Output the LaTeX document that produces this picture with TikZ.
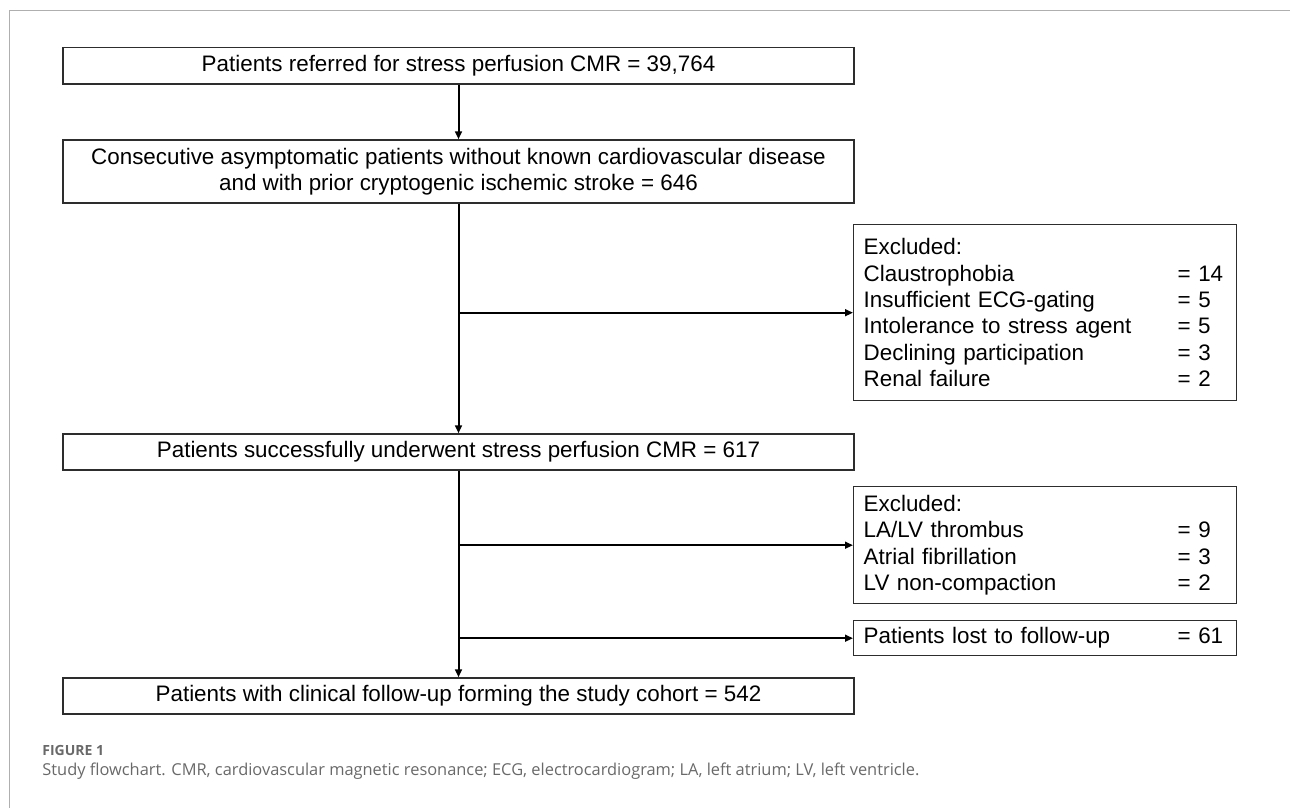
\documentclass[tikz,border=0pt]{standalone}
\usepackage{fontspec}
\setmainfont{Liberation Sans}
\newfontfamily\capfont{Open Sans}
\usepackage{xcolor}
\usetikzlibrary{arrows.meta}
\definecolor{FrameGrey}{RGB}{175,175,175}
\definecolor{CaptionGrey}{RGB}{105,105,105}
\definecolor{BoxLine}{RGB}{45,45,45}

\newcommand{\exrow}[2]{\makebox[157pt][l]{#1}= #2}

\tikzset{
  mainbox/.style={draw=BoxLine, line width=0.7pt, minimum width=395.5pt, inner sep=0pt, align=center, font=\fontsize{11.2}{13.2}\selectfont},
  exclbox/.style={draw=BoxLine, line width=0.7pt, anchor=north west, inner xsep=5pt, inner ysep=0pt, text width=181.5pt, align=left, font=\fontsize{11.2}{13.2}\selectfont},
  flowarrow/.style={line width=1pt, -{Triangle[length=4pt,width=3.4pt]}}
}

\begin{document}
\begin{tikzpicture}[x=0.5pt, y=-0.5pt]
    \useasboundingbox (0,0) rectangle (1290,808);

    % Page frame
    \draw[FrameGrey, line width=0.6pt] (9.3,808) -- (9.3,10.5) -- (1290,10.5);

    % Main boxes
    \node[mainbox, minimum height=18.2pt] (referred) at (458.5,66) {Patients referred for stress perfusion CMR = 39,764};
    \node[mainbox, minimum height=31.5pt] (consecutive) at (458.5,171.5) {Consecutive asymptomatic patients without known cardiovascular disease\\and with prior cryptogenic ischemic stroke = 646};
    \node[mainbox, minimum height=18pt] (underwent) at (458.5,452) {Patients successfully underwent stress perfusion CMR = 617};
    \node[mainbox, minimum height=18pt] (cohort) at (458.5,696) {Patients with clinical follow-up forming the study cohort = 542};

    % Exclusion boxes
    \node[exclbox, minimum height=88pt] (exclA) at (853,224) {Excluded:\\
        \exrow{Claustrophobia}{14}\\
        \exrow{Insufficient ECG-gating}{5}\\
        \exrow{Intolerance to stress agent}{5}\\
        \exrow{Declining participation}{3}\\
        \exrow{Renal failure}{2}};
    \node[exclbox, minimum height=58.5pt] (exclB) at (853,486) {Excluded:\\
        \exrow{LA/LV thrombus}{9}\\
        \exrow{Atrial fibrillation}{3}\\
        \exrow{LV non-compaction}{2}};
    \node[exclbox, minimum height=17.5pt] (lost) at (853,620) {\exrow{Patients lost to follow-up}{61}};

    % Connectors
    \draw[flowarrow] (referred) -- (consecutive);
    \draw[flowarrow] (consecutive) -- (underwent);
    \draw[flowarrow] (underwent) -- (cohort);
    \draw[flowarrow] (consecutive.south |- exclA.west) -- (exclA.west);
    \draw[flowarrow] (underwent.south |- exclB.west) -- (exclB.west);
    \draw[flowarrow] (underwent.south |- lost.west) -- (lost.west);

    % Caption
    \node[anchor=west, inner sep=0pt, text=CaptionGrey, font=\capfont\bfseries\fontsize{7}{8}\selectfont] (figlabel) at (42,750) {FIGURE 1};
    \node[anchor=west, inner sep=0pt, text=CaptionGrey, font=\capfont\fontsize{8.2}{9.8}\selectfont] (figcaption) at (42,771) {Study flowchart. CMR, cardiovascular magnetic resonance; ECG, electrocardiogram; LA, left atrium; LV, left ventricle.};
\end{tikzpicture}
\end{document}
